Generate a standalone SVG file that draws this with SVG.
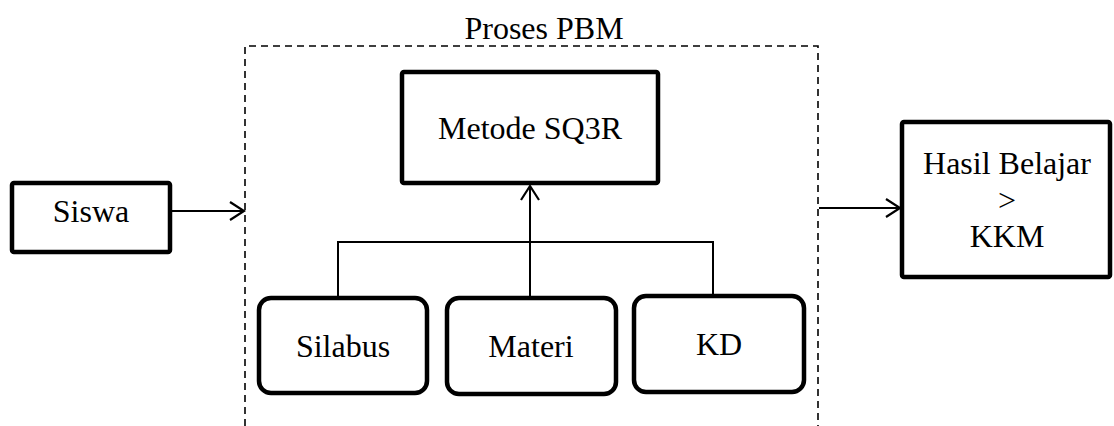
<svg xmlns="http://www.w3.org/2000/svg" width="1114" height="426" viewBox="0 0 1114 426">
<defs>
<style>
.box{fill:#fff;stroke:#000;stroke-width:4.5}
.t{font-family:'Liberation Serif','DejaVu Serif',serif;font-size:32px;fill:#000;text-anchor:middle}
.ln{fill:none;stroke:#000;stroke-width:2}
.dash{fill:none;stroke:#000;stroke-width:1.6;stroke-dasharray:7,5}
</style>
<marker id="ah" markerUnits="userSpaceOnUse" markerWidth="20" markerHeight="24" refX="15" refY="10" orient="auto" viewBox="0 0 20 24">
<path d="M1,1 L15,10 L1,19" fill="none" stroke="#000" stroke-width="2.2"/>
</marker>
</defs>
<rect width="1114" height="426" fill="#fff"/>
<g id="proses-pbm">
<path class="dash" d="M245,426 L245,46 L818,46 L818,426"/>
<text class="t" x="544" y="39" font-family="Liberation Serif, DejaVu Serif, serif">Proses PBM</text>
</g>
<g id="connectors">
<line class="ln" x1="171" y1="211" x2="244" y2="211" marker-end="url(#ah)"/>
<line class="ln" x1="819" y1="208" x2="900" y2="208" marker-end="url(#ah)"/>
<line class="ln" x1="530" y1="298" x2="530" y2="186" marker-end="url(#ah)"/>
<path class="ln" d="M338,298 L338,242 L713,242 L713,296"/>
</g>
<g id="siswa">
<rect class="box" x="12" y="183" width="158" height="69" rx="2"/>
<text class="t" x="91" y="222">Siswa</text>
</g>
<g id="metode">
<rect class="box" x="402" y="72" width="256" height="111" rx="2"/>
<text class="t" x="530" y="139">Metode SQ3R</text>
</g>
<g id="silabus">
<rect class="box" x="259" y="298" width="168" height="95" rx="12"/>
<text class="t" x="343" y="357">Silabus</text>
</g>
<g id="materi">
<rect class="box" x="447" y="298" width="169" height="96" rx="12"/>
<text class="t" x="531" y="357">Materi</text>
</g>
<g id="kd">
<rect class="box" x="634" y="296" width="170" height="96" rx="12"/>
<text class="t" x="719" y="355">KD</text>
</g>
<g id="hasil">
<rect class="box" x="902" y="122" width="208" height="155" rx="2"/>
<text class="t" x="1007" y="174">Hasil Belajar</text>
<text class="t" x="1007" y="211">&gt;</text>
<text class="t" x="1007" y="247">KKM</text>
</g>
</svg>
